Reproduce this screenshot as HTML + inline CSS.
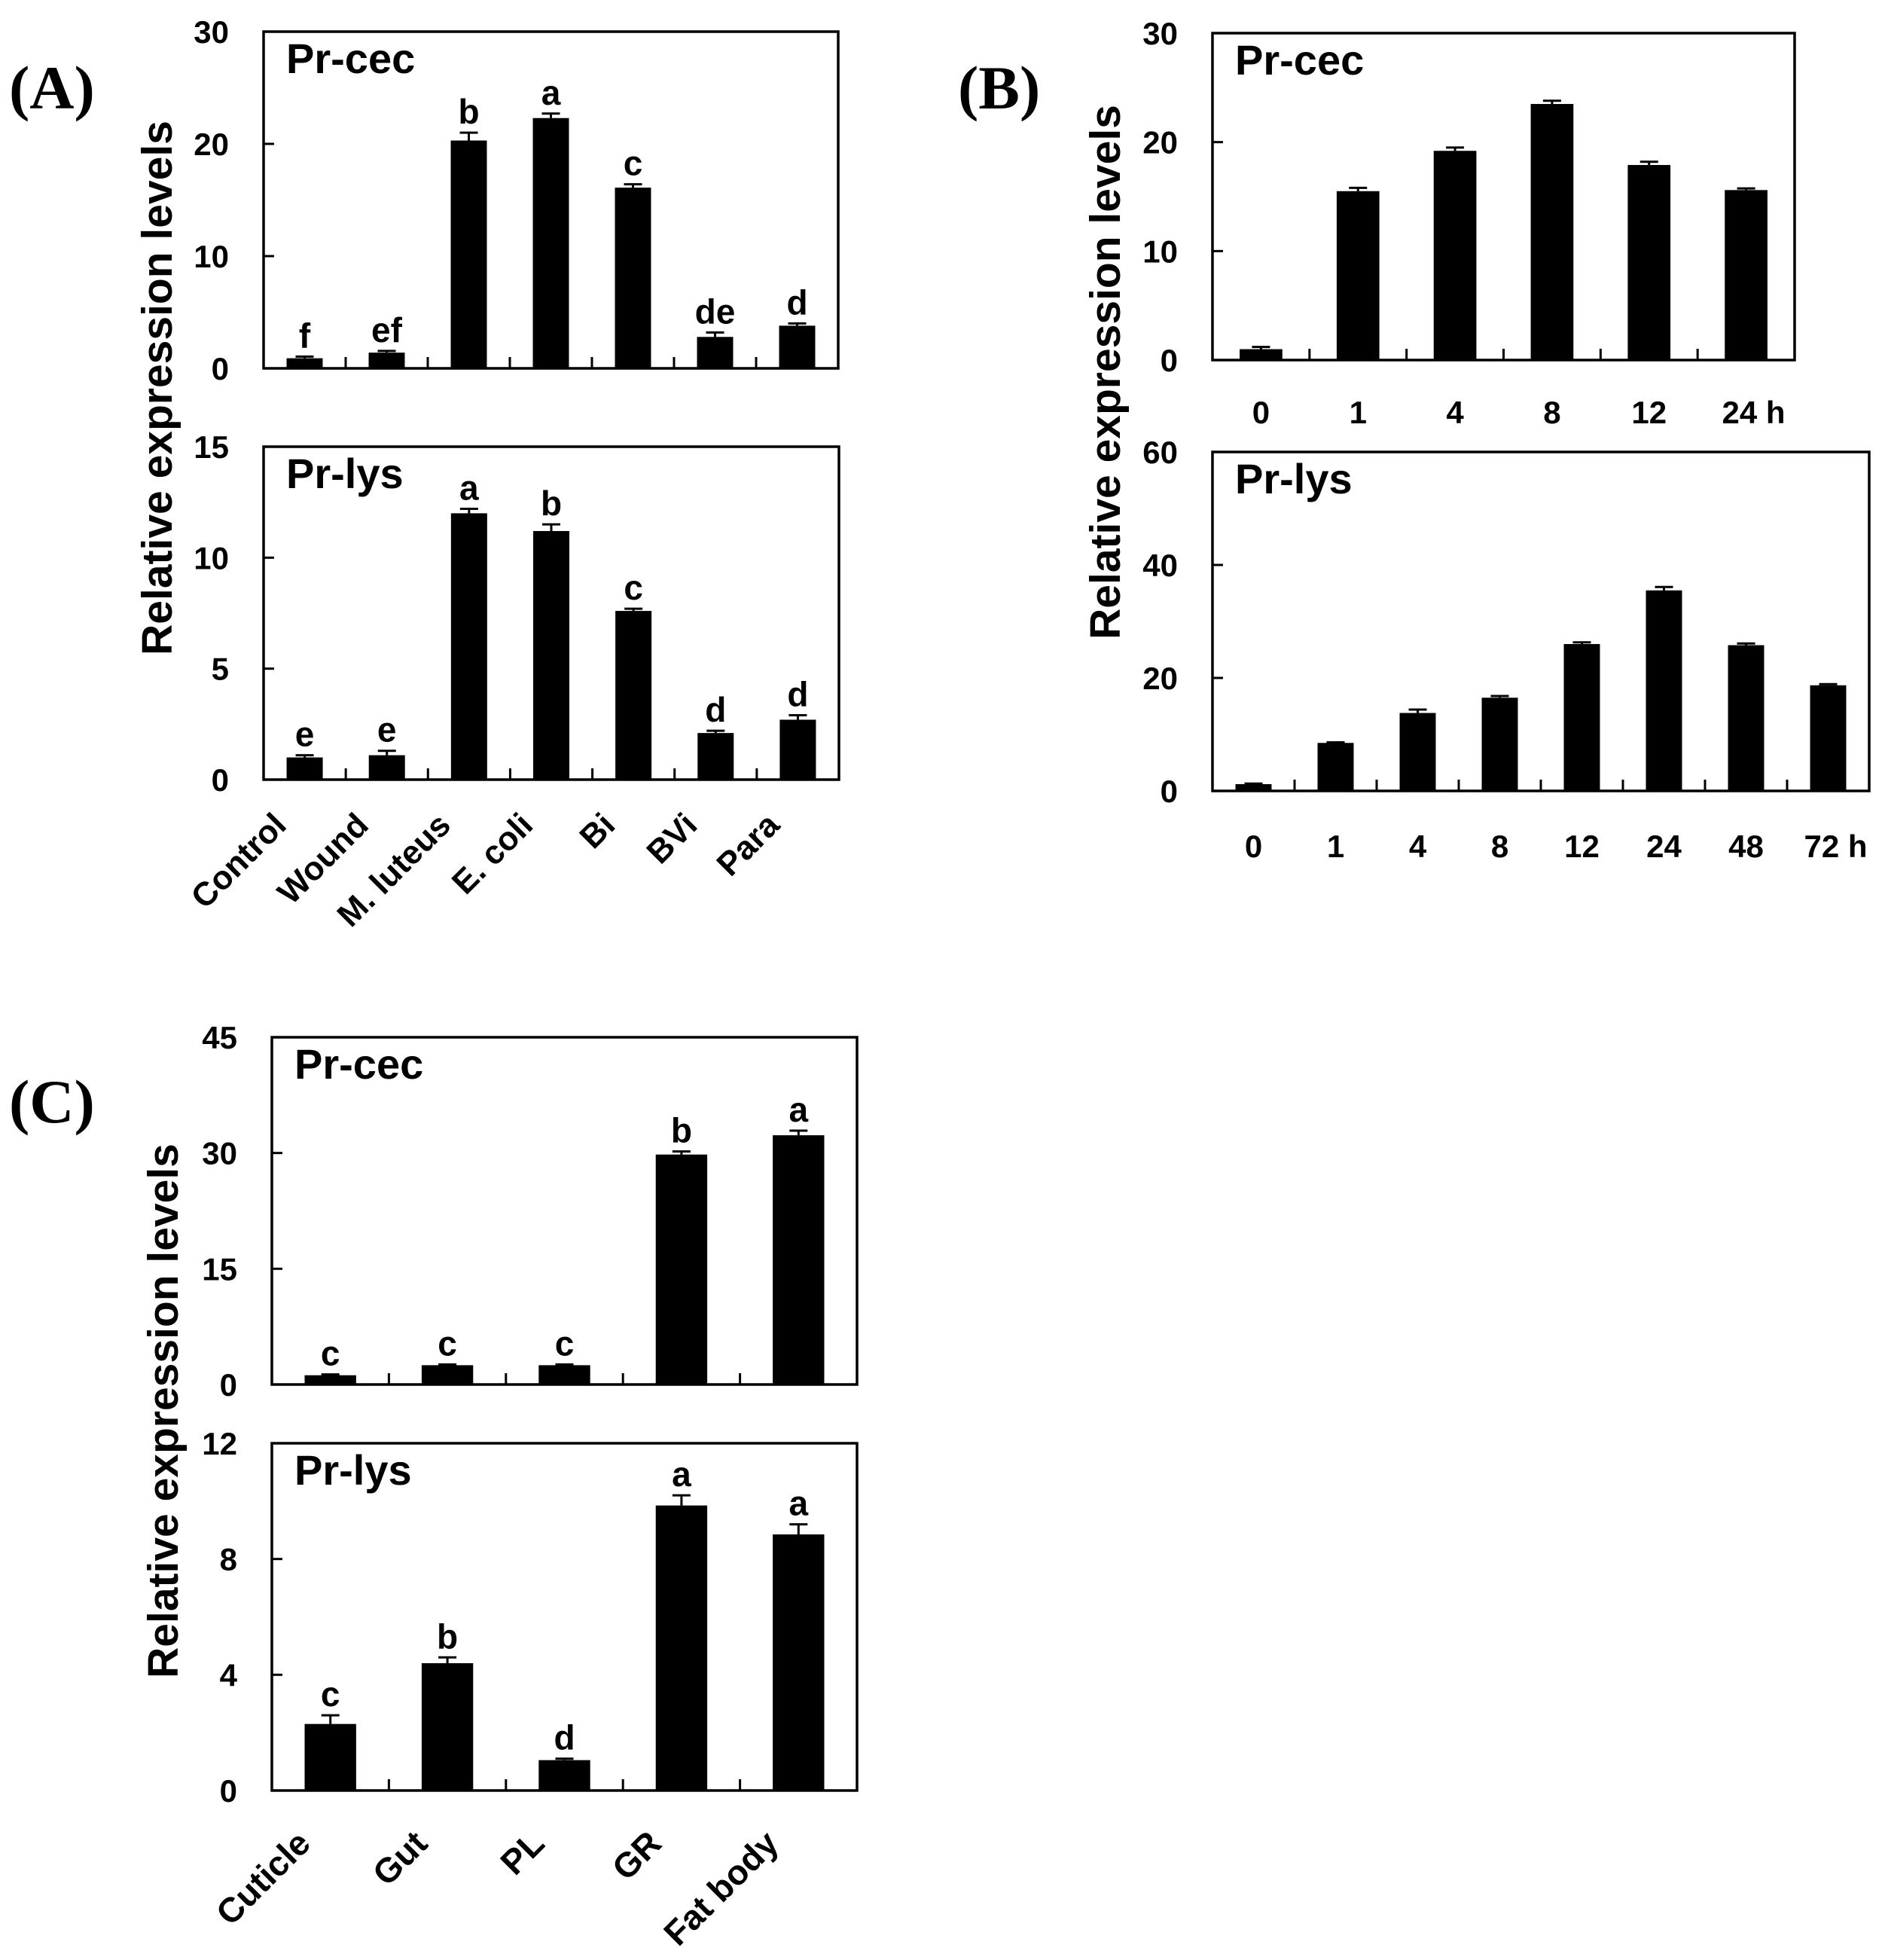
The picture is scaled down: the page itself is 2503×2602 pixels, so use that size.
<!DOCTYPE html>
<html><head><meta charset="utf-8">
<style>
html,body{margin:0;padding:0;background:#fff;}
svg{display:block;font-family:"Liberation Sans",Arial,sans-serif;font-weight:bold;}
</style></head>
<body>
<svg id="fig" xmlns="http://www.w3.org/2000/svg" width="2503" height="2602" viewBox="0 0 2503 2602">
<rect width="2503" height="2602" fill="#fff"/>
<text x="12" y="144" font-family="Liberation Serif,serif" font-size="82" font-weight="bold">(A)</text>
<text x="1272" y="144" font-family="Liberation Serif,serif" font-size="82" font-weight="bold">(B)</text>
<text x="12" y="1490" font-family="Liberation Serif,serif" font-size="82" font-weight="bold">(C)</text>
<text transform="translate(228,515) rotate(-90)" text-anchor="middle" font-size="57">Relative expression levels</text>
<text transform="translate(1487,494) rotate(-90)" text-anchor="middle" font-size="57">Relative expression levels</text>
<text transform="translate(236,1873) rotate(-90)" text-anchor="middle" font-size="57">Relative expression levels</text>
</svg>
<script>
// Panel A data
const catsA = ["Control","Wound","M. luteus","E. coli","Bi","BVi","Para"];
const cecA = [0.9,1.4,20.3,22.3,16.1,2.8,3.8];
const cecAerr = [0.15,0.15,0.7,0.4,0.3,0.4,0.2];
const cecAletters = ["f","ef","b","a","c","de","d"];
const lysA = [1.0,1.1,12.0,11.2,7.6,2.1,2.7];
const lysAerr = [0.1,0.2,0.2,0.3,0.1,0.1,0.2];
const lysAletters = ["e","e","a","b","c","d","d"];
const ticksAcec = [0,10,20,30];
const ticksAlys = [0,5,10,15];
// Panel B data
const catsBcec = ["0","1","4","8","12","24 h"];
const cecB = [1.0,15.5,19.2,23.5,17.9,15.6];
const cecBerr = [0.2,0.3,0.3,0.3,0.3,0.15];
const catsBlys = ["0","1","4","8","12","24","48","72 h"];
const lysB = [1.2,8.5,13.8,16.5,26.0,35.5,25.8,18.7];
const lysBerr = [0.1,0.1,0.6,0.3,0.3,0.6,0.3,0.2];
const ticksBcec = [0,10,20,30];
const ticksBlys = [0,20,40,60];
// Panel C data
const catsC = ["Cuticle","Gut","PL","GR","Fat body"];
const cecC = [1.2,2.5,2.5,29.8,32.3];
const cecCerr = [0.1,0.1,0.1,0.4,0.6];
const cecCletters = ["c","c","c","b","a"];
const lysC = [2.3,4.4,1.05,9.85,8.85];
const lysCerr = [0.3,0.2,0.05,0.35,0.35];
const lysCletters = ["c","b","d","a","a"];
const ticksCcec = [0,15,30,45];
const ticksClys = [0,4,8,12];

const NS="http://www.w3.org/2000/svg";
const svg=document.getElementById('fig');
function mk(tag,attrs,parent){const e=document.createElementNS(NS,tag);for(const k in attrs)e.setAttribute(k,attrs[k]);(parent||svg).appendChild(e);return e;}

function panel(id,box,maxV,ticks,vals,errs,letters,title,cats,catMode){
  const g=mk('g',{});
  
  
  const [x0,y0,x1,y1]=box;
  const n=vals.length, band=(x1-x0)/n;
  const y=v=>y1-(v/maxV)*(y1-y0);
  const cx=i=>x0+band*(i+0.5);
  const frame=mk('rect',{x:x0,y:y0,width:x1-x0,height:y1-y0,fill:'none',stroke:'#000','stroke-width':3.5},g);
  
  
  const t=mk('text',{x:x0+30,y:y0+55,'font-size':56},g); t.textContent=title;
  
  
  ticks.forEach(v=>{
    const ty=y(v);
    mk('line',{x1:x0,x2:x0+14,y1:ty,y2:ty,stroke:'#000','stroke-width':3},g);
    const l=mk('text',{x:x0-46,y:ty+15,'text-anchor':'end','font-size':42},g); l.textContent=v;
    
    
  });
  for(let i=1;i<n;i++){const tx=x0+band*i;mk('line',{x1:tx,x2:tx,y1:y1,y2:y1-15,stroke:'#000','stroke-width':3},g);}
  const bw=band*0.44;
  vals.forEach((v,i)=>{
    const b=mk('rect',{x:cx(i)-bw/2,y:y(v),width:bw,height:y1-y(v),fill:'#000'},g);
    
    
    const ey=y(v+errs[i]);
    mk('line',{x1:cx(i),x2:cx(i),y1:y(v),y2:ey,stroke:'#000','stroke-width':3},g);
    mk('line',{x1:cx(i)-12,x2:cx(i)+12,y1:ey,y2:ey,stroke:'#000','stroke-width':3},g);
    if(letters){
      const lt=mk('text',{x:cx(i),y:ey-12,'text-anchor':'middle','font-size':46},g); lt.textContent=letters[i];
      
      
    }
  });
  if(cats){
    cats.forEach((c,i)=>{
      let el;
      if(catMode.rot){
        const ax=cx(i)-catMode.dx, ay=catMode.y;
        el=mk('text',{x:0,y:0,'text-anchor':'end','font-size':catMode.fs,transform:`translate(${ax},${ay}) rotate(-45)`},g);
      } else {
        el=mk('text',{x:cx(i)+(c.indexOf('h')>0?10:0),y:catMode.y,'text-anchor':'middle','font-size':catMode.fs},g);
      }
      el.textContent=c;
      
      
    });
  }
}
panel('a-cec',[350,42,1113,489],30,ticksAcec,cecA,cecAerr,cecAletters,'Pr-cec',null,null);
panel('a-lys',[350,593,1114,1035],15,ticksAlys,lysA,lysAerr,lysAletters,'Pr-lys',catsA,{rot:true,dx:22,y:1098,fs:44});
panel('b-cec',[1610,44,2383,478],30,ticksBcec,cecB,cecBerr,null,'Pr-cec',catsBcec,{rot:false,y:562,fs:42});
panel('b-lys',[1610,600,2482,1050],60,ticksBlys,lysB,lysBerr,null,'Pr-lys',catsBlys,{rot:false,y:1138,fs:42});
panel('c-cec',[361,1377,1138,1838],45,ticksCcec,cecC,cecCerr,cecCletters,'Pr-cec',null,null);
panel('c-lys',[361,1916,1138,2377],12,ticksClys,lysC,lysCerr,lysCletters,'Pr-lys',catsC,{rot:true,dx:24,y:2450,fs:46});
</script>
</body></html>
